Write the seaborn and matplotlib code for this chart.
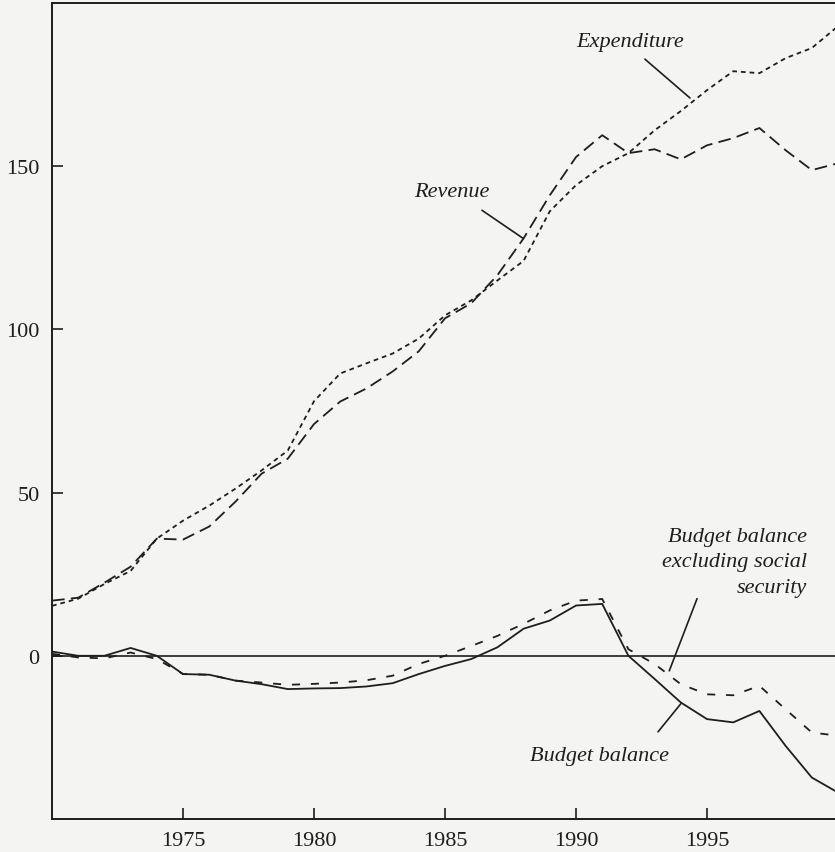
import seaborn as sns
import matplotlib.pyplot as plt
import pandas as pd

# ------------------------------------------------------------------
# Data
# ------------------------------------------------------------------
years = list(range(1970, 2001))

revenue = [16.9, 17.8, 22.4, 27.3, 35.9, 35.6, 39.6, 47.2, 55.8, 60.4,
           71.0, 77.9, 81.9, 87.1, 93.3, 103.4, 108.0, 116.6, 127.9, 141.1,
           152.8, 159.5, 154.0, 155.2, 152.1, 156.4, 158.6, 161.7, 154.9, 148.8,
           150.9]

expenditure = [15.3, 17.5, 22.0, 26.0, 35.9, 41.4, 46.0, 51.2, 56.8, 62.9,
               78.0, 86.5, 89.6, 92.6, 97.2, 104.3, 108.9, 115.0, 121.0, 136.2,
               144.2, 150.0, 154.0, 161.0, 166.9, 173.3, 179.1, 178.5, 183.1, 186.2,
               192.9]

balance = [1.3, 0.0, 0.0, 2.4, 0.0, -5.6, -5.8, -7.6, -8.7, -10.2,
           -10.0, -9.9, -9.4, -8.4, -5.6, -3.1, -1.0, 2.6, 8.3, 10.8,
           15.4, 15.9, 0.0, -7.1, -14.3, -19.4, -20.4, -16.9, -27.6, -37.3,
           -41.9]

balance_ex_ss = [0.6, -0.5, -0.8, 1.0, -1.0, -5.6, -5.8, -7.6, -8.2, -8.9,
                 -8.6, -8.2, -7.5, -6.1, -2.5, 0.0, 3.0, 6.1, 9.8, 13.9,
                 16.9, 17.4, 2.0, -2.5, -8.7, -11.8, -12.1, -9.2, -16.4, -23.5,
                 -24.5]

df = pd.DataFrame({
    "year": years,
    "revenue": revenue,
    "expenditure": expenditure,
    "balance": balance,
    "balance_ex_ss": balance_ex_ss,
})

# ------------------------------------------------------------------
# Style
# ------------------------------------------------------------------
sns.set_theme(style="white")
plt.rcParams["font.family"] = ["Liberation Serif", "DejaVu Serif"]

ink = "#1e1e1e"
paper = "#f4f4f2"

fig = plt.figure(figsize=(8.35, 8.53), dpi=100, facecolor=paper)
ax = fig.add_axes([0.0623, 0.0387, 0.9413, 0.9566])
ax.set_facecolor(paper)

lw = 1.3
sns.lineplot(data=df, x="year", y="revenue", color=ink, lw=lw,
             linestyle=(0, (7, 3.5)), ax=ax)
sns.lineplot(data=df, x="year", y="expenditure", color=ink, lw=lw,
             linestyle=(0, (2.6, 2.2)), ax=ax)
sns.lineplot(data=df, x="year", y="balance", color=ink, lw=lw,
             linestyle="-", ax=ax)
sns.lineplot(data=df, x="year", y="balance_ex_ss", color=ink, lw=lw,
             linestyle=(0, (4.5, 6)), ax=ax)

# zero line
ax.axhline(0, color=ink, lw=1.2, zorder=1)

ax.set_xlim(1970, 2000)
ax.set_ylim(-50, 200)
ax.set_xticks([1975, 1980, 1985, 1990, 1995])
ax.set_yticks([0, 50, 100, 150])
ax.set_xlabel("")
ax.set_ylabel("")
ax.tick_params(bottom=True, left=True, direction="in", length=8, width=1.2,
               color=ink, labelsize=16, labelcolor=ink, pad=9)

for side in ["left", "bottom", "top"]:
    ax.spines[side].set_color(ink)
    ax.spines[side].set_linewidth(1.4)
ax.spines["right"].set_visible(False)

# ------------------------------------------------------------------
# Labels and leader lines
# ------------------------------------------------------------------
txt = dict(fontsize=16, style="italic", color=ink)
leader = dict(arrowstyle="-", color=ink, lw=1.2, shrinkA=0, shrinkB=0)

ax.text(1992.06, 188.3, "Expenditure", ha="center", va="center", **txt)
ax.annotate("", xy=(1994.35, 170.9), xytext=(1992.63, 182.8), arrowprops=leader)

ax.text(1985.27, 142.3, "Revenue", ha="center", va="center", **txt)
ax.annotate("", xy=(1987.98, 127.9), xytext=(1986.41, 136.5), arrowprops=leader)

ax.text(1998.8, 28.8, "Budget balance\nexcluding social\nsecurity",
        ha="right", va="center", multialignment="right", linespacing=1.45, **txt)
ax.annotate("", xy=(1993.56, -4.6), xytext=(1994.62, 17.5), arrowprops=leader)

ax.text(1990.9, -30.7, "Budget balance", ha="center", va="center", **txt)
ax.annotate("", xy=(1994.0, -14.7), xytext=(1993.13, -23.3), arrowprops=leader)

fig.savefig("out.png", dpi=100, facecolor=paper)
plt.close(fig)
